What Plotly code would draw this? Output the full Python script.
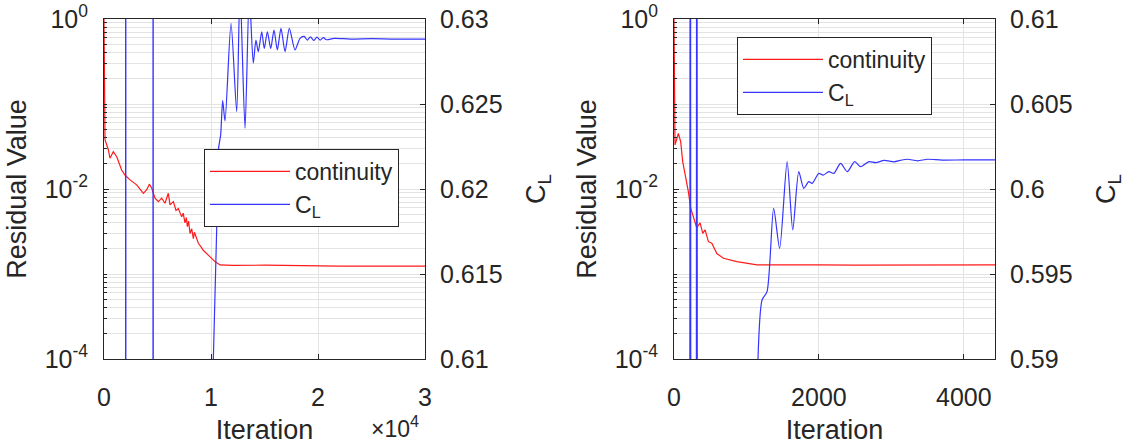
import plotly.graph_objects as go

# ---------------- data ----------------
# Left panel: long run (iterations 0 .. 3e4)
res1_iter = [0, 30, 80, 93, 405, 560, 870, 1190, 1650, 1960, 2430, 3050, 3680, 3990, 4240,
             4460, 4770, 5080, 5390, 5700, 6010, 6170, 6480, 6730, 6950, 7260, 7400, 7570,
             7700, 7790, 7900, 8040, 8200, 8350, 8450, 8600, 8820, 9050, 9280, 9750, 10370,
             10840, 12000, 15000, 18000, 20000, 22000, 25000, 28000, 30000]
res1_cont = [1.0, 0.2, 0.05, 0.038, 0.029, 0.023, 0.0275, 0.024, 0.0167, 0.0146, 0.0128,
             0.0112, 0.0089, 0.0098, 0.0114, 0.0102, 0.0078, 0.0071, 0.0078, 0.0068, 0.0089,
             0.0065, 0.0071, 0.0056, 0.0059, 0.0047, 0.0052, 0.0040, 0.0046, 0.0036, 0.0042,
             0.0030, 0.0034, 0.0026, 0.0031, 0.0028, 0.0023, 0.0021, 0.0019, 0.00167, 0.0014,
             0.00128, 0.00126, 0.00127, 0.00126, 0.00123, 0.00124, 0.00124, 0.00125, 0.00124]

# C_L, early out-of-range transient (spikes), then the converging part
cl1_early_iter = [0, 2010, 2030, 2050, 4570, 4590, 4610, 10200]
cl1_early_val = [0.55, 0.55, 0.70, 0.55, 0.55, 0.70, 0.55, 0.6095]
cl1_iter = [10200, 10530, 10690, 10906, 11090, 11310, 11870, 12400, 12710, 13180, 13580,
            13950, 14200, 14420, 14740, 14980, 15270, 15580, 15890, 16200, 16540, 16920,
            17320, 17850, 18320, 18700, 19000, 19300, 19600, 19900, 20200, 20500, 20800,
            21500, 23000, 25000, 27000, 30000]
cl1_val = [0.6095, 0.6176, 0.6223, 0.6232, 0.6252, 0.6240, 0.62975, 0.62455, 0.6318, 0.62357,
           0.6315, 0.6274, 0.62876, 0.62808, 0.62925, 0.62827, 0.62925, 0.62827, 0.62935,
           0.62818, 0.62945, 0.62808, 0.62945, 0.62818, 0.62886, 0.62898, 0.62876, 0.62895,
           0.62874, 0.62893, 0.62876, 0.6289, 0.62878, 0.62886, 0.62882, 0.62884, 0.62882,
           0.62882]

# Right panel: short run (iterations 0 .. ~4430)
res2_iter = [0, 8, 14, 60, 92, 120, 166, 198, 231, 268, 314, 360, 397, 429, 475, 522, 591,
             683, 868, 1145, 1500, 2000, 2500, 3000, 3500, 4000, 4430]
res2_cont = [1.0, 0.3, 0.033, 0.045, 0.036, 0.021, 0.0134, 0.0093, 0.0059, 0.0047, 0.0035,
             0.0040, 0.0030, 0.0033, 0.0024, 0.0023, 0.00174, 0.00153, 0.0014, 0.00128,
             0.00127, 0.00128, 0.00127, 0.00127, 0.00128, 0.00127, 0.00128]

cl2_early_iter = [0, 215, 225, 235, 305, 315, 325, 1100, 1159]
cl2_early_val = [0.55, 0.55, 0.65, 0.55, 0.55, 0.65, 0.55, 0.585, 0.59]
cl2_iter = [1159, 1215, 1284, 1375, 1458, 1561, 1639, 1722, 1791, 1860, 1907, 1999, 2059,
            2137, 2206, 2299, 2392, 2493, 2576, 2691, 2784, 2900, 3038, 3120, 3223, 3360,
            3500, 3700, 4000, 4430]
cl2_val = [0.59, 0.59347, 0.59396, 0.59886, 0.59651, 0.60161, 0.59759, 0.60102, 0.60004,
           0.60043, 0.60033, 0.60092, 0.60082, 0.60102, 0.60092, 0.60151, 0.60102, 0.60161,
           0.60131, 0.60161, 0.60155, 0.60168, 0.6016, 0.60168, 0.60175, 0.60166, 0.60175,
           0.6017, 0.60171, 0.60171]

# tick labels
log_tickvals = [1e-4, 1e-2, 1]
log_ticktext = ["10<sup>-4</sup>", "10<sup>-2</sup>", "10<sup>0</sup>"]
log_minor = [m * 10.0 ** e for e in range(-4, 0) for m in range(2, 10)] + [1e-3, 1e-1]
x1_tickvals = [0, 10000, 20000, 30000]
x1_ticktext = ["0", "1", "2", "3"]
x2_tickvals = [0, 2000, 4000]
cl1_ticks = [0.61, 0.615, 0.62, 0.625, 0.63]
cl1_text = ["0.61", "0.615", "0.62", "0.625", "0.63"]
cl2_ticks = [0.59, 0.595, 0.6, 0.605, 0.61]
cl2_text = ["0.59", "0.595", "0.6", "0.605", "0.61"]

# ---------------- styling ----------------
RED = "#ff1a1a"
BLUE = "#3535ff"
AX = "#262626"
GRID = "#e3e3e3"
FONT = "Liberation Sans"

fig = go.Figure()
fig.add_trace(go.Scatter(x=res1_iter, y=res1_cont, mode="lines", name="continuity",
                         line=dict(color=RED, width=1.2), xaxis="x", yaxis="y", legend="legend"))
fig.add_trace(go.Scatter(x=cl1_iter, y=cl1_val, mode="lines", name="C<sub>L</sub>",
                         line=dict(color=BLUE, width=1.2, shape="spline", smoothing=0.7),
                         xaxis="x", yaxis="y2", legend="legend"))
fig.add_trace(go.Scatter(x=cl1_early_iter, y=cl1_early_val, mode="lines", showlegend=False,
                         line=dict(color=BLUE, width=1.2), xaxis="x", yaxis="y2"))
fig.add_trace(go.Scatter(x=res2_iter, y=res2_cont, mode="lines", name="continuity",
                         line=dict(color=RED, width=1.2), xaxis="x2", yaxis="y3", legend="legend2"))
fig.add_trace(go.Scatter(x=cl2_iter, y=cl2_val, mode="lines", name="C<sub>L</sub>",
                         line=dict(color=BLUE, width=1.2, shape="spline", smoothing=0.7),
                         xaxis="x2", yaxis="y4", legend="legend2"))
fig.add_trace(go.Scatter(x=cl2_early_iter, y=cl2_early_val, mode="lines", showlegend=False,
                         line=dict(color=BLUE, width=1.2), xaxis="x2", yaxis="y4"))

W, H = 1126, 445
ydom = [1 - 359 / H, 1 - 19 / H]


def xax(domain, rng, tv, tt, anchor):
    return dict(domain=domain, range=rng, anchor=anchor, tickvals=tv, ticktext=tt,
                automargin=False,
                showgrid=True, gridcolor=GRID, gridwidth=1, zeroline=False,
                showline=True, linecolor=AX, linewidth=1, mirror="ticks",
                ticks="inside", ticklen=5, tickcolor=AX, ticklabelstandoff=16,
                tickfont=dict(size=25, color=AX),
                title=dict(text="Iteration", font=dict(size=27, color=AX), standoff=10))


def ylog(anchor):
    return dict(type="log", range=[-4, 0], domain=ydom, anchor=anchor, automargin=False,
                tickvals=log_tickvals, ticktext=log_ticktext,
                showgrid=True, gridcolor=GRID, gridwidth=1, zeroline=False,
                minor=dict(tickvals=log_minor, showgrid=True, gridcolor=GRID, gridwidth=1,
                           ticks="inside", ticklen=3, tickcolor=AX),
                showline=True, linecolor=AX, linewidth=1,
                ticks="inside", ticklen=5, tickcolor=AX, ticklabelstandoff=10,
                tickfont=dict(size=25, color=AX),
                title=dict(text="Residual Value", font=dict(size=27, color=AX), standoff=10))


def yright(overlay, anchor, rng, tv, tt):
    return dict(overlaying=overlay, side="right", anchor=anchor, range=rng, automargin=False,
                tickvals=tv, ticktext=tt, showgrid=False, zeroline=False,
                showline=True, linecolor=AX, linewidth=1,
                ticks="inside", ticklen=5, tickcolor=AX, ticklabelstandoff=9,
                tickfont=dict(size=25, color=AX),
                title=dict(text="C<sub>L</sub>", font=dict(size=27, color=AX), standoff=24))


leg_common = dict(xanchor="left", yanchor="top", bgcolor="white", bordercolor=AX,
                  borderwidth=1, font=dict(size=23, color=AX, family=FONT), itemwidth=80)

fig.update_layout(
    width=W, height=H,
    margin=dict(l=0, r=0, t=0, b=0, autoexpand=False),
    paper_bgcolor="white", plot_bgcolor="white",
    font=dict(family=FONT, color=AX),
    xaxis=xax([104 / W, 425 / W], [0, 30000], x1_tickvals, x1_ticktext, "y"),
    yaxis=ylog("x"),
    yaxis2=yright("y", "x", [0.61, 0.63], cl1_ticks, cl1_text),
    xaxis2=xax([674 / W, 995 / W], [0, 4430], x2_tickvals, [str(v) for v in x2_tickvals], "y3"),
    yaxis3=ylog("x2"),
    yaxis4=yright("y3", "x2", [0.59, 0.61], cl2_ticks, cl2_text),
    legend=dict(x=204 / W, y=1 - 149 / H, **leg_common),
    legend2=dict(x=737 / W, y=1 - 37 / H, **leg_common),
    annotations=[dict(text="\u00d710<sup>4</sup>", xref="paper", yref="paper",
                      x=395 / W, y=1 - 427 / H, xanchor="center", yanchor="middle",
                      showarrow=False, font=dict(size=23, color=AX))],
)

fig.write_html("out.html")
